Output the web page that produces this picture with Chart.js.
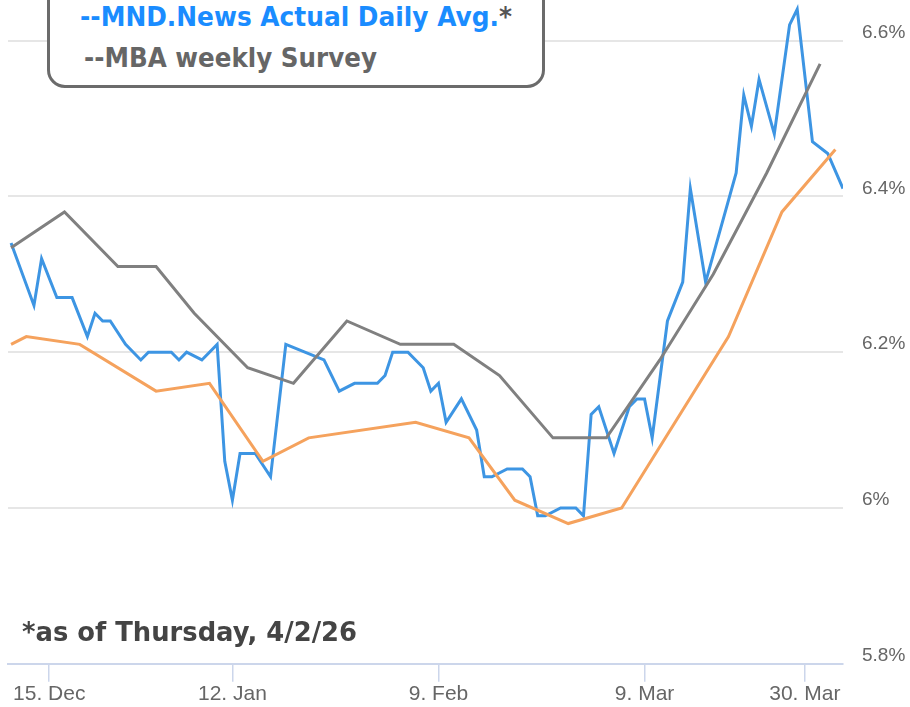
<!DOCTYPE html>
<html><head><meta charset="utf-8">
<script src="https://cdn.jsdelivr.net/npm/chart.js@4"></script>
<style>
html,body{margin:0;padding:0;background:#fff;}
#wrap{position:relative;width:910px;height:707px;overflow:hidden;background:#fff;}
canvas{position:absolute;left:0;top:0;}
.legend{position:absolute;left:47px;top:-24px;width:492px;height:106px;border:3px solid #6b6b6b;border-radius:18px;background:#fff;}
.t{position:absolute;white-space:nowrap;font-family:"DejaVu Sans",sans-serif;font-weight:bold;font-size:27px;line-height:27px;transform-origin:0 0;}
</style></head>
<body><div id="wrap"><canvas id="c" width="910" height="707"></canvas>
<div class="legend"></div>
<div class="t" id="l1" style="left:80px;top:3px;color:#1a8cff">--MND.News Actual Daily Avg.<span style="color:#555">*</span></div>
<div class="t" id="l2" style="left:84px;top:44px;color:#666">--MBA weekly Survey</div>
<div class="t" id="fn" style="left:22px;top:618px;color:#444">*as of Thursday, 4/2/26</div>
</div>
<script>
// ordinal day index (one step per published day)
const blueDay = [0,3,4,6,8,10,11,12,13,15,17,18,21,22,23,25,27,28,29,30,32,34,36,41,43,45,48,49,50,52,54,55,56,57,59,61,62,63,65,67,68,69,70,72,74,75,76,77,79,81,82,83,84,86,88,89,91,95,96,97,98,100,102,103,105,107,109];
const blueRate = [6.34,6.26,6.32,6.27,6.27,6.22,6.25,6.24,6.24,6.21,6.19,6.20,6.20,6.19,6.20,6.19,6.21,6.06,6.01,6.07,6.07,6.04,6.21,6.19,6.15,6.16,6.16,6.17,6.20,6.20,6.18,6.15,6.16,6.11,6.14,6.10,6.04,6.04,6.05,6.05,6.04,5.99,5.99,6.00,6.00,5.99,6.12,6.13,6.07,6.13,6.14,6.14,6.09,6.24,6.29,6.41,6.29,6.43,6.53,6.49,6.55,6.48,6.62,6.64,6.47,6.455,6.41];

const mbaDay = [0,7,14,19,24,31,37,44,51,58,64,71,78,85,92,99,106];
const mbaRate = [6.334,6.38,6.31,6.31,6.25,6.18,6.16,6.24,6.21,6.21,6.17,6.09,6.09,6.19,6.30,6.43,6.57];

const weeklyDay = [0,2,9,19,26,33,39,53,60,66,73,80,94,101,108];
const weeklyRate = [6.21,6.22,6.21,6.15,6.16,6.06,6.09,6.11,6.09,6.01,5.98,6.00,6.22,6.38,6.46];

const tickDay = [5,29,56,83,104];
const tickLabel = ['15. Dec','12. Jan','9. Feb','9. Mar','30. Mar'];
const yTicks = [5.8,6.0,6.2,6.4,6.6];
const yTickLabel = ['5.8%','6%','6.2%','6.4%','6.6%'];

const pts = (xs, ys) => xs.map((d,i)=>({x:d,y:ys[i]}));

new Chart(document.getElementById('c'), {
  type:'line',
  data:{datasets:[
    {label:'Weekly average', data:pts(weeklyDay,weeklyRate), borderColor:'#f5a25d', borderWidth:3, pointRadius:0, tension:0},
    {label:'MBA weekly Survey', data:pts(mbaDay,mbaRate), borderColor:'#808080', borderWidth:3, pointRadius:0, tension:0},
    {label:'MND.News Actual Daily Avg.', data:pts(blueDay,blueRate), borderColor:'#3d95e3', borderWidth:3, pointRadius:0, tension:0}
  ]},
  options:{
    responsive:false, animation:false,
    layout:{padding:{left:8,right:0,top:0,bottom:0}},
    plugins:{legend:{display:false}, tooltip:{enabled:false}},
    scales:{
      x:{type:'linear', min:-0.4, max:109,
        afterBuildTicks: s => { s.ticks = tickDay.map(v=>({value:v})); },
        ticks:{callback:(v,i)=>tickLabel[i], color:'#666', font:{family:'Liberation Sans', size:21}, padding:0, maxRotation:0, autoSkip:false},
        grid:{drawOnChartArea:false, drawTicks:true, tickLength:18, color:'#ccd6eb', lineWidth:1.5},
        border:{display:true, color:'#ccd6eb', width:2}
      },
      y:{position:'right', min:5.8, max:6.652,
        afterBuildTicks: s => { s.ticks = yTicks.map(v=>({value:v})); },
        afterFit: s => { s.width = 67; s.paddingTop = 0; s.paddingBottom = 0; },
        ticks:{callback:(v,i)=>yTickLabel[i], color:'#666', font:{family:'Liberation Sans', size:19}, padding:19, labelOffset:-8},
        grid:{color: ctx => (ctx.tick && ctx.tick.value===5.8) ? 'rgba(0,0,0,0)' : '#e6e6e6', lineWidth:2, drawTicks:false},
        border:{display:false}
      }
    }
  }
});

function fit(id, target){
  const el = document.getElementById(id);
  const w = el.getBoundingClientRect().width;
  el.style.transform = 'scaleX(' + (target / w) + ')';
}
fit('l1', 432); fit('l2', 293); fit('fn', 335);
</script>
</body></html>
